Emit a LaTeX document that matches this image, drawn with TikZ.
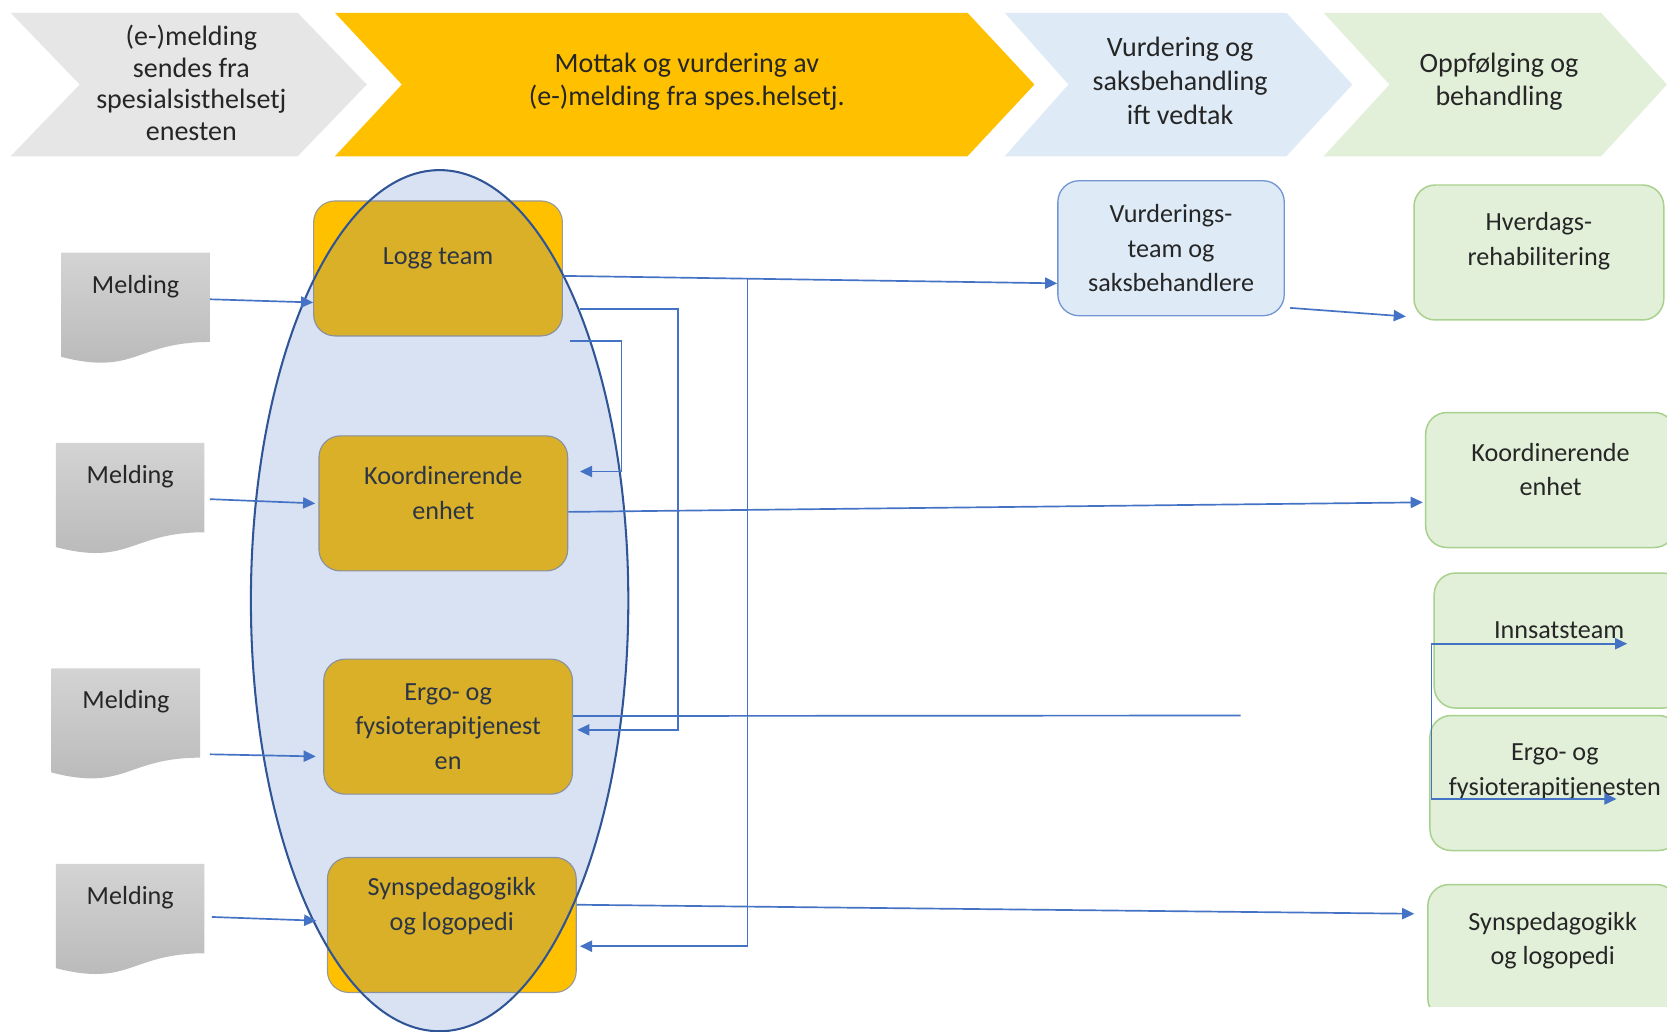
\documentclass[tikz,border=0pt]{standalone}
\usepackage{fontspec}
\setmainfont{Carlito}
\usetikzlibrary{arrows.meta,calc,backgrounds}

\definecolor{hdrgrey}{HTML}{E7E6E6}
\definecolor{hdryellow}{HTML}{FFC000}
\definecolor{hdrblue}{HTML}{DEEBF7}
\definecolor{hdrgreen}{HTML}{E2F0D9}
\definecolor{linkblue}{HTML}{4472C4}
\definecolor{ringblue}{HTML}{2F5597}
\definecolor{greenline}{HTML}{A9D18E}
\definecolor{textdark}{HTML}{262626}

\tikzset{
  hdrtext/.style={align=center, text=textdark, font=\fontsize{15}{18}\selectfont},
  boxtext/.style={align=center, text=textdark, font=\fontsize{14}{18.5}\selectfont},
  melding/.style={boxtext, minimum width=2.78cm, minimum height=2.1cm,
    inner sep=0pt, text depth=0.93cm},
  teambox/.style={boxtext, rounded corners=0.4cm, fill=hdryellow, draw=black!40,
    line width=0.6pt, minimum width=4.68cm, minimum height=2.54cm, inner sep=2pt},
  vurdbox/.style={boxtext, rounded corners=0.4cm, fill=hdrblue, draw=linkblue!75,
    line width=0.7pt, minimum width=4.26cm, minimum height=2.54cm, inner sep=2pt},
  tjenbox/.style={boxtext, rounded corners=0.4cm, fill=hdrgreen, draw=greenline,
    line width=0.8pt, minimum width=4.7cm, minimum height=2.54cm, inner sep=2pt},
  link/.style={draw=linkblue, line width=0.9pt},
  arr/.style={link, -{Triangle[length=6.5pt,width=6pt]}}
}

\begin{document}
\begin{tikzpicture}[x=0.02cm, y=-0.02cm]

  \useasboundingbox (0,0) rectangle (1568,970);
  \clip (0,0) rectangle (1568,970);

  % process arrows on top
  \foreach \l/\n/\r/\t/\c in {10/75/280/345/hdrgrey, 315/378/910/973/hdryellow,
      945/1005/1210/1272/hdrblue, 1245/1307/1506/1568/hdrgreen}
    \fill[\c] (\l,12) -- (\r,12) -- (\t,79.5) -- (\r,147) -- (\l,147) -- (\n,79.5) -- cycle;

  \begin{scope}[every node/.style={hdrtext}]
    \node[font=\fontsize{15}{17}\selectfont] (h1) at (180,78)
      {(e-)melding\\sendes fra\\spesialsisthelsetj\\enesten};
    \node (h2) at (646,77) {Mottak og vurdering av\\(e-)melding fra spes.helsetj.};
    \node (h3) at (1110,76) {Vurdering og\\saksbehandling\\ift vedtak};
    \node (h4) at (1410,77) {Oppfølging og\\behandling};
  \end{scope}

  \begin{scope}[every node/.style={melding}]
    \node (m1) at (127.5,290.5) {Melding};
    \node (m2) at (122.5,469.5) {Melding};
    \node (m3) at (118.5,681.5) {Melding};
    \node (m4) at (122.5,865.5) {Melding};
  \end{scope}

  \begin{scope}[on background layer]
    \fill[white] (0,0) rectangle (1568,970);
    \foreach \m in {m1,m2,m3,m4}
      \shade[top color=black!17, bottom color=black!28]
        (\m.north west) -- (\m.north east) -- ($(\m.north east)+(0,84)$)
        .. controls ($(\m.north)+(0,84)$) and ($(\m.north)+(0,116)$) ..
        ($(\m.north west)+(0,98)$) -- cycle;
  \end{scope}

  \begin{scope}[every node/.style={teambox}]
    \node[text depth=0.47cm] (logg) at (412,252.5) {Logg team};
    \node[text depth=0.4cm] (koord) at (417,473.5) {Koordinerende\\enhet};
    \node (ergo) at (421.5,683.5) {Ergo- og\\fysioterapitjenest\\en};
    \node[text depth=0.79cm] (syn) at (425,870) {Synspedagogikk\\og logopedi};
  \end{scope}

  % the group
  \fill[linkblue, fill opacity=0.2] (413.5,565) ellipse [x radius=177.5, y radius=405];
  \draw[ringblue, line width=1.1pt] (413.5,565) ellipse [x radius=177.5, y radius=405];

  \node[vurdbox] (vurd) at (1101.5,233.5) {Vurderings-\\team og\\saksbehandlere};

  \begin{scope}
    \clip (1300,150) rectangle (1568,947);
    \begin{scope}[every node/.style={tjenbox}]
      \node[text depth=0.51cm] (hverd) at (1447.5,237.5) {Hverdags-\\rehabilitering};
      \node[text depth=0.4cm] (gkoord) at (1458.5,451.5) {Koordinerende\\enhet};
      \node[text depth=0.4cm] (innsats) at (1466.5,602.5) {Innsatsteam};
      \node[text depth=0.51cm] (gergo) at (1462.5,736.5) {Ergo- og\\fysioterapitjenesten};
      \node[text depth=0.51cm] (gsyn) at (1460.5,895.5) {Synspedagogikk\\og logopedi};
    \end{scope}
  \end{scope}

  \coordinate (split) at (703,262);
  \coordinate (ergoend) at (1167,673);

  \draw[arr] ($(m1.east)+(0,-9)$) -- ($(logg.west)+(0,32)$);
  \draw[arr] ($(m2.east)+(5,0)$) -- ($(koord.west)+(-3,0)$);
  \draw[arr] ($(m3.east)+(9,28)$) -- ($(ergo.west)+(-7,28)$);
  \draw[arr] ($(m4.east)+(7,-3)$) -- ($(syn.west)+(-10,-4)$);

  \draw[arr] ($(logg.east)+(0,7)$) -- ($(vurd.west)+(0,33)$);
  \draw[arr] ($(vurd.south east)+(5,-8)$) -- ($(hverd.south west)+(-7,-4)$);
  \draw[arr] ($(koord.east)+(0,8)$) -- ($(gkoord.west)+(-2,21)$);
  \draw[arr] ($(syn.east)+(0,-19)$) -- ($(gsyn.west)+(-12,-36)$);
  \draw[link] ($(ergo.east)+(0,-10)$) -- (ergoend);

  \draw[arr] (split) |- ($(syn.east)+(3,20)$);
  \draw[arr] ($(logg.east)+(16,38)$) -- ++(92,0) |- ($(ergo.east)+(4,3)$);
  \draw[arr] ($(logg.south east)+(7,4)$) -- ++(48,0) |- ($(koord.east)+(11,-30)$);

  \draw[arr] ($(innsats.west)+(-2,3)$) -- ($(innsats.center)+(64,3)$);
  \draw[arr] ($(innsats.west)+(-2,3)$) |- ($(gergo.center)+(58,15)$);

\end{tikzpicture}
\end{document}
